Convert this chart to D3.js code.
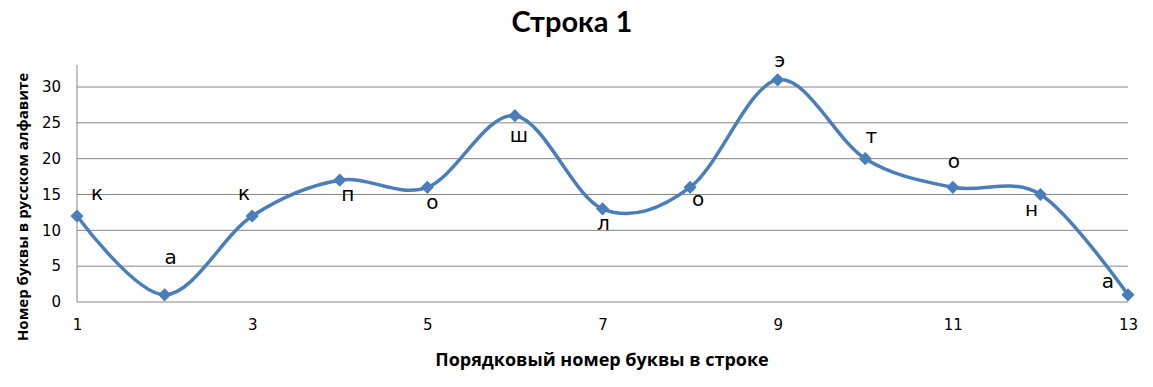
<!DOCTYPE html>
<html>
<head>
<meta charset="utf-8">
<script src="https://cdn.jsdelivr.net/npm/d3@7/dist/d3.min.js"></script>
<style>
  body { margin: 0; background: #fff; }
</style>
</head>
<body>
<svg id="chart" width="1153" height="387"></svg>
<script>
const positions = [1, 2, 3, 4, 5, 6, 7, 8, 9, 10, 11, 12, 13]
const letterNumbers = [12, 1, 12, 17, 16, 26, 13, 16, 31, 20, 16, 15, 1]
const letters = ['к', 'а', 'к', 'п', 'о', 'ш', 'л', 'о', 'э', 'т', 'о', 'н', 'а']
const xTicks = [1, 3, 5, 7, 9, 11, 13]
const yTicks = [0, 5, 10, 15, 20, 25, 30]

// label offsets relative to the marker (like Excel's per-point label placement)
const labelOffsets = [[20, -22], [6, -37], [-8, -22], [8, 15], [5, 16], [4, 20], [1, 15], [8, 13], [2, -19], [6, -22], [1, -25], [-9, 15], [-20, -13]]

const svg = d3.select('#chart')
const blue = '#4a7ebb'

const x = d3.scaleLinear().domain([1, 13]).range([77, 1128])
const y = d3.scaleLinear().domain([0, 30]).range([302, 87])

// gridlines
svg.append('g').selectAll('line').data(yTicks).enter().append('line')
    .attr('x1', x(1)).attr('x2', x(13))
    .attr('y1', d => y(d)).attr('y2', d => y(d))
    .attr('stroke', '#868686').attr('stroke-width', 1)

// vertical axis line
svg.append('line')
    .attr('x1', x(1)).attr('x2', x(1))
    .attr('y1', y(0)).attr('y2', 65)
    .attr('stroke', '#868686')

const yAxis = svg.append('g').attr('transform', `translate(${x(1)},0)`)
    .call(d3.axisLeft(y).tickValues(yTicks).tickSize(0).tickPadding(16))
yAxis.select('.domain').remove()
yAxis.selectAll('text').attr('font-family', 'DejaVu Sans').attr('font-size', '15px').attr('fill', '#000')

const xAxis = svg.append('g').attr('transform', `translate(0,${y(0)})`)
    .call(d3.axisBottom(x).tickValues(xTicks).tickSize(0).tickPadding(17))
xAxis.select('.domain').remove()
xAxis.selectAll('text').attr('font-family', 'DejaVu Sans').attr('font-size', '15px').attr('fill', '#000')

const points = positions.map((p, i) => [p, letterNumbers[i]])

const line = d3.line().x(d => x(d[0])).y(d => y(d[1])).curve(d3.curveCardinal.tension(0))

svg.append('path').datum(points)
    .attr('d', line).attr('fill', 'none')
    .attr('stroke', blue).attr('stroke-width', 3.5)

svg.append('g').selectAll('path').data(points).enter().append('path')
    .attr('d', d3.symbol(d3.symbolDiamond2, 110))
    .attr('transform', d => `translate(${x(d[0])},${y(d[1])})`)
    .attr('fill', blue)

svg.append('g').selectAll('text').data(points).enter().append('text')
    .attr('x', (d, i) => x(d[0]) + labelOffsets[i][0])
    .attr('y', (d, i) => y(d[1]) + labelOffsets[i][1] + 6)
    .attr('text-anchor', 'middle')
    .attr('font-family', 'DejaVu Sans').attr('font-size', '20px')
    .text((d, i) => letters[i])

svg.append('text')
    .attr('x', 572).attr('y', 32)
    .attr('text-anchor', 'middle')
    .attr('font-family', 'Lato, "Open Sans", sans-serif').attr('font-weight', 'bold')
    .attr('font-size', '29px')
    .text('Строка 1')

svg.append('text')
    .attr('x', 602).attr('y', 366)
    .attr('text-anchor', 'middle')
    .attr('font-family', '"Open Sans", sans-serif').attr('font-weight', 'bold')
    .attr('font-size', '18px')
    .text('Порядковый номер буквы в строке')

svg.append('text')
    .attr('transform', 'translate(28,207) rotate(-90)')
    .attr('text-anchor', 'middle')
    .attr('font-family', '"Open Sans", sans-serif').attr('font-weight', 'bold')
    .attr('font-size', '15px')
    .text('Номер буквы в русском алфавите')
</script>
</body>
</html>
